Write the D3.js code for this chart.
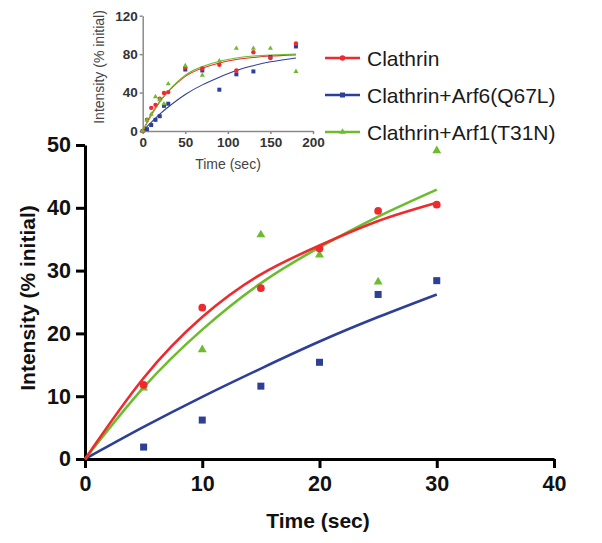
<!DOCTYPE html>
<html><head><meta charset="utf-8">
<script src="https://cdn.jsdelivr.net/npm/d3@7"></script>
<style>
html,body{margin:0;padding:0;background:#fff;}
svg{display:block;font-family:"Liberation Sans",Arial,sans-serif;}
</style></head>
<body><svg id="c" width="602" height="543"></svg>
<script>
// ---- data ----
const seriesNames = ["Clathrin", "Clathrin+Arf6(Q67L)", "Clathrin+Arf1(T31N)"];
const seriesColors = ["#ee2a2e", "#2e3f97", "#6cbd2e"];
const seriesShapes = ["circle", "square", "triangle"];

// main chart (0-30 s)
const mainTimes = [5, 10, 15, 20, 25, 30];
const clathrinMain = [11.8, 24.1, 27.2, 33.5, 39.5, 40.5];
const arf6Main = [1.9, 6.2, 11.6, 15.4, 26.2, 28.4];
const arf1Main = [11.3, 17.4, 35.7, 32.5, 28.2, 49.1];

// fitted curves
const fitTimesMain = [0, 5, 10, 15, 20, 25, 30];
const clathrinFitMain = [0, 12.9, 22.6, 29.4, 34.0, 37.9, 40.8];
const arf6FitMain = [0, 5.1, 9.9, 14.4, 18.7, 22.6, 26.2];
const arf1FitMain = [0, 11.4, 20.6, 28.0, 33.7, 38.6, 42.9];

// inset (0-180 s)
const insetTimes = [0, 5, 10, 15, 20, 25, 30, 50, 70, 90, 110, 130, 150, 180];
const clathrinInset = [0, 11.8, 24.1, 27.2, 33.5, 39.5, 40.5, 66, 65, 69, 63, 82, 76, 91];
const arf6Inset = [0, 1.9, 6.2, 11.6, 15.4, 26.2, 28.4, 64, 63, 43, 59, 62, 77, 88];
const arf1Inset = [0, 11.3, 17.4, 35.7, 32.5, 28.2, 49.1, 68, 58, 73, 86, 86, 86, 62];

const fitTimesInset = [0, 10, 20, 30, 50, 70, 90, 110, 130, 150, 180];
const clathrinFitInset = [0, 17.2, 30.6, 41, 56.9, 65.4, 70.8, 74.4, 76.5, 78, 79.2];
const arf6FitInset = [0, 9, 17.5, 25, 38, 48, 56, 63, 68, 72, 76];
const arf1FitInset = [0, 16, 30, 41.5, 58, 67, 72.5, 76, 78, 79, 80];

// ticks
const mainXTicks = [0, 10, 20, 30, 40];
const mainYTicks = [0, 10, 20, 30, 40, 50];
const insetXTicks = [0, 50, 100, 150, 200];
const insetYTicks = [0, 40, 80, 120];

// ---- drawing ----
const svg = d3.select("#c");
svg.append("rect").attr("width", 602).attr("height", 543).attr("fill", "#fff");

function marker(g, shape, x, y, s, color) {
  if (shape === "circle") g.append("circle").attr("cx", x).attr("cy", y).attr("r", s * 0.55).attr("fill", color);
  else if (shape === "square") g.append("rect").attr("x", x - s / 2).attr("y", y - s / 2).attr("width", s).attr("height", s).attr("fill", color);
  else g.append("path").attr("d", d3.symbol(d3.symbolTriangle, s * s * 0.7)()).attr("transform", `translate(${x},${y})`).attr("fill", color);
}

// ===== main chart =====
const x = d3.scaleLinear().domain([0, 40]).range([85, 554]);
const y = d3.scaleLinear().domain([0, 50]).range([459, 145]);
const main = svg.append("g");

const mainFits = [clathrinFitMain, arf6FitMain, arf1FitMain];
const mainPts = [clathrinMain, arf6Main, arf1Main];
const lineMain = d3.line().x(d => x(d[0])).y(d => y(d[1])).curve(d3.curveNatural);

const xa = main.append("g").attr("transform", `translate(0,${y(0)})`)
  .call(d3.axisBottom(x).tickValues(mainXTicks).tickSize(9).tickSizeOuter(0).tickPadding(8));
const ya = main.append("g").attr("transform", `translate(${x(0)},0)`)
  .call(d3.axisLeft(y).tickValues(mainYTicks).tickSize(9).tickSizeOuter(0).tickPadding(5));
[xa, ya].forEach(a => {
  a.select(".domain").attr("stroke", "#000").attr("stroke-width", 3);
  a.selectAll(".tick line").attr("stroke", "#000").attr("stroke-width", 3);
  a.selectAll(".tick text").attr("fill", "#111").attr("font-size", 21.5).attr("font-weight", "bold")
    .attr("font-family", "'Liberation Sans',Arial,sans-serif");
});

[1, 2, 0].forEach(i => {
  main.append("path").datum(fitTimesMain.map((t, j) => [t, mainFits[i][j]]))
    .attr("d", lineMain).attr("fill", "none").attr("stroke", seriesColors[i]).attr("stroke-width", 2.6);
});
[1, 2, 0].forEach(i => {
  mainTimes.forEach((t, j) => marker(main, seriesShapes[i], x(t), y(mainPts[i][j]), 7, seriesColors[i]));
});

main.append("text").attr("x", 318).attr("y", 528).attr("text-anchor", "middle")
  .attr("font-size", 21).attr("font-weight", "bold").attr("fill", "#111").text("Time (sec)");
main.append("text").attr("transform", "translate(35,298) rotate(-90)").attr("text-anchor", "middle")
  .attr("font-size", 21).attr("font-weight", "bold").attr("fill", "#111").text("Intensity (% initial)");

// ===== inset =====
const xi = d3.scaleLinear().domain([0, 200]).range([142.7, 313]);
const yi = d3.scaleLinear().domain([0, 120]).range([131, 15.7]);
const inset = svg.append("g");
const xia = inset.append("g").attr("transform", `translate(0,${yi(0)})`)
  .call(d3.axisBottom(xi).tickValues(insetXTicks).tickSize(3).tickSizeOuter(0).tickPadding(3));
const yia = inset.append("g").attr("transform", `translate(${xi(0)},0)`)
  .call(d3.axisLeft(yi).tickValues(insetYTicks).tickSize(3).tickSizeOuter(0).tickPadding(2));
[xia, yia].forEach(a => {
  a.select(".domain").attr("stroke", "#8a8a8a").attr("stroke-width", 1.5);
  a.selectAll(".tick line").attr("stroke", "#8a8a8a").attr("stroke-width", 1.5);
  a.selectAll(".tick text").attr("fill", "#333").attr("font-size", 13.5).attr("font-weight", "bold")
    .attr("font-family", "'Liberation Sans',Arial,sans-serif");
});
const insetFits = [clathrinFitInset, arf6FitInset, arf1FitInset];
const insetPts = [clathrinInset, arf6Inset, arf1Inset];
const lineInset = d3.line().x(d => xi(d[0])).y(d => yi(d[1])).curve(d3.curveNatural);
[1, 0, 2].forEach(i => {
  inset.append("path").datum(fitTimesInset.map((t, j) => [t, insetFits[i][j]]))
    .attr("d", lineInset).attr("fill", "none").attr("stroke", seriesColors[i]).attr("stroke-width", 1.1);
});
[1, 0, 2].forEach(i => {
  insetTimes.forEach((t, j) => marker(inset, seriesShapes[i], xi(t), yi(insetPts[i][j]), 4, seriesColors[i]));
});
inset.append("text").attr("x", 228).attr("y", 169).attr("text-anchor", "middle")
  .attr("font-size", 14).attr("fill", "#444").text("Time (sec)");
inset.append("text").attr("transform", "translate(104,67) rotate(-90)").attr("text-anchor", "middle")
  .attr("font-size", 14).attr("fill", "#444").text("Intensity (% initial)");

// ===== legend =====
const legend = svg.append("g");
const legendY = [58, 95, 132];
seriesNames.forEach((n, i) => {
  legend.append("line").attr("x1", 325).attr("x2", 360).attr("y1", legendY[i]).attr("y2", legendY[i])
    .attr("stroke", seriesColors[i]).attr("stroke-width", 2.5);
  marker(legend, seriesShapes[i], 342.5, legendY[i], 5, seriesColors[i]);
  legend.append("text").attr("x", 367).attr("y", legendY[i] + 7.5).attr("font-size", 21)
    .attr("fill", "#1a1a1a").text(n);
});
</script>
</body></html>
